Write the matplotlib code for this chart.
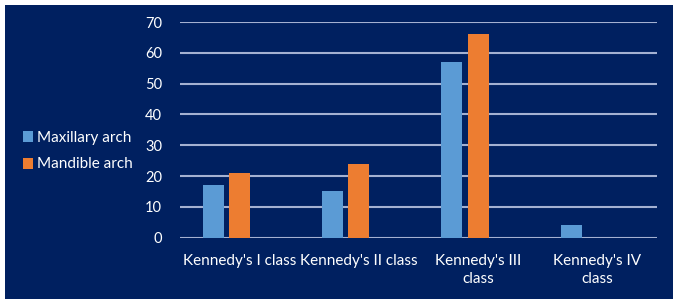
import matplotlib.pyplot as plt
import matplotlib.patches as mpatches
import numpy as np

categories = ["Kennedy's I class", "Kennedy's II class", "Kennedy's III\nclass", "Kennedy's IV\nclass"]
maxillary = [17, 15, 57, 4]
mandible = [21, 24, 66, 0]
yticks = [0, 10, 20, 30, 40, 50, 60, 70]

navy = '#002060'
blue = '#5b9bd5'
orange = '#ed7d31'
grid_col = '#a4b1d2'

plt.rcParams['font.family'] = ['Lato', 'DejaVu Sans']

fig = plt.figure(figsize=(6.78, 3.03), dpi=100, facecolor='white')
# navy panel inside a thin white border
fig.patches.append(mpatches.Rectangle((5 / 678, 4 / 303), 668 / 678, 294 / 303,
                                      transform=fig.transFigure, facecolor=navy,
                                      edgecolor='none', zorder=-10))

ax = fig.add_axes([180 / 678, 1 - 237.7 / 303, 477 / 678, 215.7 / 303])
ax.set_facecolor('none')

x = np.arange(len(categories))
w = 0.175
ax.bar(x - 0.22, maxillary, width=w, color=blue, zorder=3, label='Maxillary arch')
ax.bar(x, mandible, width=w, color=orange, zorder=3, label='Mandible arch')

ax.set_xlim(-0.5, 3.5)
ax.set_ylim(0, 70)
ax.set_yticks(yticks)
ax.set_yticklabels([str(t) for t in yticks])
ax.set_xticks(x)
ax.set_xticklabels(categories)
for lab in ax.get_xticklabels():
    lab.set_linespacing(1.35)

ax.yaxis.grid(True, color=grid_col, linewidth=1.5, zorder=1)
ax.set_axisbelow(True)
for s in ax.spines.values():
    s.set_visible(False)
ax.tick_params(axis='y', length=0, pad=13, labelcolor='white', labelsize=10.5)
ax.tick_params(axis='x', length=0, pad=12, labelcolor='white', labelsize=11)

leg = ax.legend(loc='center left', bbox_to_anchor=(15 / 678, 152 / 303),
                bbox_transform=fig.transFigure, frameon=False,
                handlelength=0.65, handleheight=0.75, handletextpad=0.3,
                labelspacing=0.85, fontsize=11, labelcolor='white', borderpad=0)

fig.savefig('out.png', dpi=100, facecolor='white')
